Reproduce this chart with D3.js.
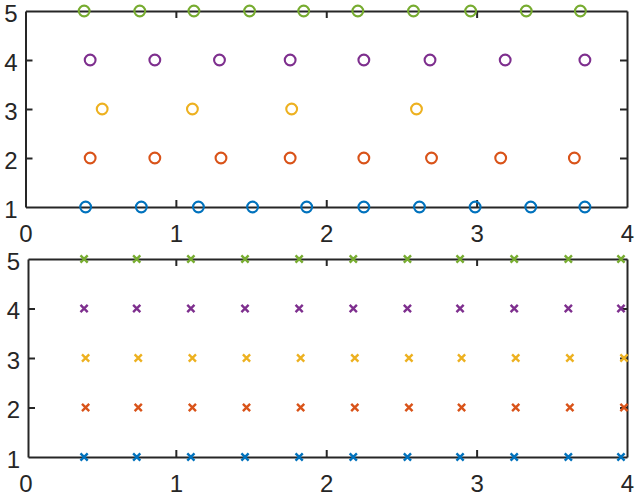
<!DOCTYPE html>
<html>
<head>
<meta charset="utf-8">
<script src="https://cdn.jsdelivr.net/npm/d3@7"></script>
<style>
  body { margin: 0; background: #fff; }
  svg { display: block; }
  .tick text { font-family: "Liberation Sans", Arial, sans-serif; font-size: 24px; fill: #262626; }
  .tick line, .domain { stroke: #262626; stroke-width: 2; }
</style>
</head>
<body>
<script>
var xTicks = [0, 1, 2, 3, 4],
    yTicks = [1, 2, 3, 4, 5];

// top panel: circles, one array of x positions per level
var topBlue   = [0.40, 0.77, 1.15, 1.51, 1.87, 2.25, 2.62, 2.99, 3.36, 3.72],
    topOrange = [0.43, 0.86, 1.30, 1.76, 2.25, 2.70, 3.16, 3.65],
    topYellow = [0.51, 1.11, 1.77, 2.60],
    topPurple = [0.43, 0.86, 1.29, 1.76, 2.25, 2.69, 3.19, 3.72],
    topGreen  = [0.39, 0.76, 1.12, 1.49, 1.85, 2.21, 2.58, 2.96, 3.33, 3.69];

// bottom panel: crosses
var botBlue   = [0.39, 0.74, 1.10, 1.46, 1.82, 2.18, 2.54, 2.89, 3.25, 3.61, 3.96],
    botOrange = [0.40, 0.75, 1.11, 1.47, 1.83, 2.19, 2.55, 2.90, 3.26, 3.62, 3.98],
    botYellow = [0.40, 0.75, 1.11, 1.47, 1.83, 2.19, 2.55, 2.90, 3.26, 3.62, 3.98],
    botPurple = [0.39, 0.74, 1.10, 1.46, 1.82, 2.18, 2.54, 2.89, 3.25, 3.61, 3.96],
    botGreen  = [0.39, 0.74, 1.10, 1.46, 1.82, 2.18, 2.54, 2.89, 3.25, 3.61, 3.96];

var colors = ['#0072BD', '#D95319', '#EDB120', '#7E2F8E', '#77AC30'];

var topSeries = [topBlue, topOrange, topYellow, topPurple, topGreen],
    botSeries = [botBlue, botOrange, botYellow, botPurple, botGreen];

var svg = d3.select('body').append('svg')
    .attr('width', 635)
    .attr('height', 497);

// drop tick marks that would sit on the box corners
function trim(sel, ends) {
  sel.selectAll('.tick')
    .filter(function(d) { return ends.indexOf(d) >= 0; })
    .select('line').remove();
}

function panel(xDomain, xRange, yRange) {
  var x = d3.scaleLinear().domain(xDomain).range(xRange),
      y = d3.scaleLinear().domain([1, 5]).range(yRange);
  var g = svg.append('g');
  var tl = 7, fmt = d3.format('d');

  g.append('g')
    .attr('transform', 'translate(0,' + yRange[0] + ')')
    .call(d3.axisBottom(x).tickValues(xTicks).tickSizeInner(-tl).tickSizeOuter(0).tickPadding(18).tickFormat(fmt))
    .call(trim, [0, 4]);
  g.append('g')
    .attr('transform', 'translate(0,' + yRange[1] + ')')
    .call(d3.axisTop(x).tickValues(xTicks).tickSizeInner(-tl).tickSizeOuter(0).tickFormat(''))
    .call(trim, [0, 4]);
  g.append('g')
    .attr('transform', 'translate(' + xRange[0] + ',0)')
    .call(d3.axisLeft(y).tickValues(yTicks).tickSizeInner(-tl).tickSizeOuter(0).tickPadding(8).tickFormat(fmt))
    .call(trim, [1, 5])
    .selectAll('text').attr('dy', '0.42em');
  g.append('g')
    .attr('transform', 'translate(' + xRange[1] + ',0)')
    .call(d3.axisRight(y).tickValues(yTicks).tickSizeInner(-tl).tickSizeOuter(0).tickFormat(''))
    .call(trim, [1, 5]);

  return { g: g, x: x, y: y };
}

var p1 = panel([0, 4], [25.5, 627], [207, 11]);
var p2 = panel([0.017, 4], [28, 627], [457, 259]);

topSeries.forEach(function(xs, i) {
  p1.g.selectAll(null)
    .data(xs)
    .enter()
    .append('circle')
     .attr('cx', function(d) { return p1.x(d); })
     .attr('cy', p1.y(i + 1))
     .attr('r', 5.4)
     .attr('fill', 'none')
     .attr('stroke', colors[i])
     .attr('stroke-width', 2.1);
});

botSeries.forEach(function(xs, i) {
  p2.g.selectAll(null)
    .data(xs)
    .enter()
    .append('path')
     .attr('transform', function(d) { return 'translate(' + p2.x(d) + ',' + p2.y(i + 1) + ')'; })
     .attr('d', 'M-3.6,-3.6L3.6,3.6M-3.6,3.6L3.6,-3.6')
     .attr('fill', 'none')
     .attr('stroke', colors[i])
     .attr('stroke-width', 2.4);
});
</script>
</body>
</html>
